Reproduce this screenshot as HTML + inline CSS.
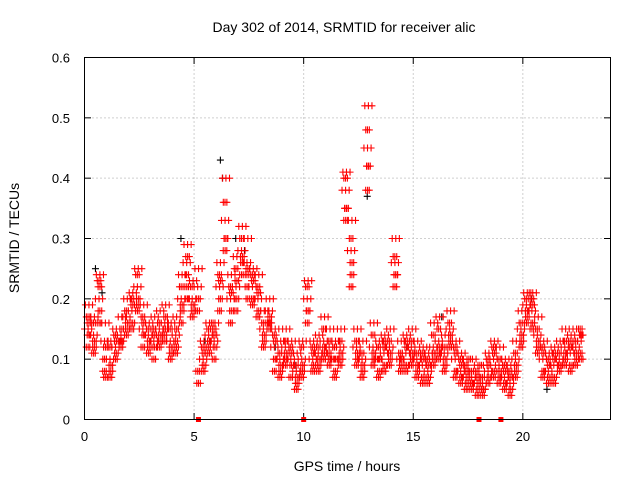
<!DOCTYPE html>
<html><head><meta charset="utf-8"><style>
body{margin:0;background:#fff;}
svg{display:block;font-family:"Liberation Sans",sans-serif;}
</style></head><body>
<svg id="chart" width="640" height="480" viewBox="0 0 640 480">
<rect width="640" height="480" fill="#fff"/>
<text x="344" y="32" font-size="14" text-anchor="middle">Day 302 of 2014, SRMTID for receiver alic</text>
<text transform="translate(19,238) rotate(-90)" font-size="14" text-anchor="middle">SRMTID / TECUs</text>
<text x="347" y="471" font-size="14" text-anchor="middle">GPS time / hours</text>
<g id="grid"></g>
<g id="marks"></g>
<rect x="84.5" y="57.5" width="526" height="362" fill="none" stroke="#000"/>
</svg>
<script>
const xTicks=[0,5,10,15,20];
const yTicks=[0,0.1,0.2,0.3,0.4,0.5,0.6];
const yTickLabels=["0","0.1","0.2","0.3","0.4","0.5","0.6"];
const step=0.25;
const seriesStarts=[0,0.04,0.08,0.12,0.16,0.20];
const passOffsets=[0,0.083,0.166];
const seriesMid=[.15,.14,.2,.13,.1,.12,.14,.17,.18,.22,.15,.14,.13,.15,.16,.13,.14,.2,.26,.2,.22,.1,.14,.13,.22,.33,.2,.22,.28,.26,.22,.2,.15,.18,.12,.1,.12,.1,.08,.1,.2,.1,.11,.13,.12,.1,.12,.38,.28,.12,.1,.45,.12,.1,.11,.12,.26,.1,.11,.12,.1,.09,.08,.12,.13,.11,.15,.1,.08,.07,.07,.06,.06,.08,.1,.09,.07,.06,.1,.15,.19,.18,.14,.1,.08,.09,.1,.12,.11,.12,.13];
const seriesHigh=[.19,.17,.24,.16,.13,.15,.17,.2,.21,.25,.19,.16,.17,.18,.19,.16,.17,.24,.29,.23,.25,.13,.16,.16,.26,.4,.24,.27,.32,.3,.25,.24,.18,.2,.15,.13,.15,.13,.11,.13,.23,.13,.14,.17,.15,.13,.15,.41,.33,.15,.13,.52,.16,.13,.14,.15,.3,.13,.14,.15,.13,.12,.11,.16,.17,.14,.18,.13,.11,.1,.1,.09,.09,.11,.13,.12,.1,.09,.13,.18,.21,.21,.17,.13,.11,.12,.13,.15,.14,.15,.15];
const seriesLow=[.12,.11,.16,.08,.07,.1,.12,.14,.15,.18,.12,.11,.1,.12,.13,.1,.11,.16,.22,.17,.08,.08,.12,.1,.18,.28,.16,.18,.24,.22,.19,.17,.12,.15,.08,.07,.09,.07,.05,.07,.16,.08,.08,.1,.09,.07,.09,.33,.22,.09,.07,.38,.09,.07,.08,.09,.22,.08,.08,.09,.07,.06,.06,.09,.1,.08,.12,.07,.06,.05,.05,.04,.04,.06,.07,.06,.05,.04,.07,.12,.16,.15,.11,.07,.06,.06,.08,.09,.08,.09,.1];
const seriesAlt=[.16,.13,.22,.12,.09,.13,.15,.16,.19,.2,.16,.13,.14,.14,.17,.12,.15,.19,.27,.19,.2,.11,.13,.14,.23,.3,.21,.23,.27,.25,.23,.21,.14,.17,.13,.09,.11,.11,.07,.09,.18,.11,.1,.12,.13,.1,.11,.35,.26,.11,.09,.42,.11,.1,.12,.11,.24,.1,.12,.11,.09,.1,.09,.11,.12,.1,.14,.11,.09,.08,.06,.07,.05,.09,.11,.08,.08,.07,.09,.14,.18,.19,.13,.11,.09,.1,.09,.11,.12,.11,.14];
const seriesExtra1=[.17,.16,.23,.1,.12,.14,.13,.18,.2,.24,.17,.15,.15,.16,.14,.15,.13,.22,.24,.22,.18,.12,.15,.15,.24,.36,.22,.25,.3,.24,.24,.22,.16,.16,.14,.11,.13,.12,.09,.12,.22,.12,.12,.15,.11,.12,.13,.4,.3,.13,.11,.48,.14,.12,.13,.13,.27,.11,.13,.13,.11,.11,.1,.14,.15,.12,.16,.12,.1,.09,.08,.08,.07,.1,.12,.1,.09,.08,.11,.16,.2,.2,.15,.12,.1,.11,.11,.13,.13,.13,.14];
const seriesExtra2=[.14,.12,.18,.07,.08,.11,.13,.15,.16,.19,.14,.12,.12,.13,.15,.11,.12,.18,.2,.18,.06,.09,.11,.12,.2,.3,.18,.2,.26,.2,.2,.18,.13,.16,.1,.08,.1,.09,.06,.08,.18,.09,.09,.11,.1,.08,.1,.35,.24,.1,.08,.42,.1,.08,.09,.1,.24,.09,.09,.1,.08,.07,.07,.1,.11,.09,.13,.08,.07,.06,.06,.05,.05,.07,.08,.07,.06,.05,.08,.13,.17,.16,.12,.08,.07,.07,.09,.1,.09,.1,.11];
const blackTimes=[0.5,0.8,4.4,5.5,6.2,6.3,6.9,7.3,8.7,9.6,12.9,14.7,16.3,20.4,21.1];
const blackValues=[0.25,0.21,0.3,0.13,0.43,0.4,0.3,0.28,0.12,0.09,0.37,0.12,0.17,0.2,0.05];
const gapTimes=[5.2,10,18,19];

const NS="http://www.w3.org/2000/svg";
const X=t=>84.5+t*(526/24);
const Y=v=>419.5-v*(362/0.6);
const grid=document.getElementById('grid'),marks=document.getElementById('marks');
function mk(tag,attrs,parent){const e=document.createElementNS(NS,tag);for(const k in attrs)e.setAttribute(k,attrs[k]);parent.appendChild(e);return e;}
xTicks.forEach(t=>{
  const x=X(t);
  if(t>0){const g=mk('line',{x1:x,x2:x,y1:57.5,y2:419.5,stroke:'#a0a0a0','stroke-dasharray':'1,3'},grid);
  
  }
  mk('line',{x1:x,x2:x,y1:419.5,y2:413,stroke:'#000'},grid);
  mk('line',{x1:x,x2:x,y1:57.5,y2:64,stroke:'#000'},grid);
  const l=mk('text',{x:x,y:441,'font-size':13,'text-anchor':'middle'},grid);l.textContent=t;
  
  
});
yTicks.forEach((v,i)=>{
  const y=Y(v);
  if(i>0&&i<yTicks.length-1){const g=mk('line',{x1:84.5,x2:610.5,y1:y,y2:y,stroke:'#a0a0a0','stroke-dasharray':'1,3'},grid);
  
  }
  mk('line',{x1:84.5,x2:91,y1:y,y2:y,stroke:'#000'},grid);
  mk('line',{x1:610.5,x2:604,y1:y,y2:y,stroke:'#000'},grid);
  const l=mk('text',{x:70,y:y+5,'font-size':13,'text-anchor':'end'},grid);l.textContent=yTickLabels[i];
  
  
});
function plus(t,v,color){
  const x=X(t),y=Y(v);
  const p=mk('path',{d:`M${x-3.5} ${y}h7M${x} ${y-3.5}v7`,stroke:color,'stroke-width':1.1,fill:'none'},marks);
  
  
}
blackTimes.forEach((t,i)=>plus(t,blackValues[i],'#000'));
const allSeries=[seriesMid,seriesHigh,seriesLow,seriesAlt,seriesExtra1,seriesExtra2];
passOffsets.forEach((off,pi)=>{
  allSeries.forEach((s,k)=>{
    const start=seriesStarts[(k+pi*2)%seriesStarts.length]+off;
    s.forEach((v,i)=>{
      const t=start+i*step;
      if(t<=22.75)plus(t,v,'#ff0000');
    });
  });
});
gapTimes.forEach(t=>{
  const r=mk('rect',{x:X(t)-2.5,y:Y(0)-2.5,width:5,height:5,fill:'#ff0000'},marks);
  
  
});
</script>
</body></html>
